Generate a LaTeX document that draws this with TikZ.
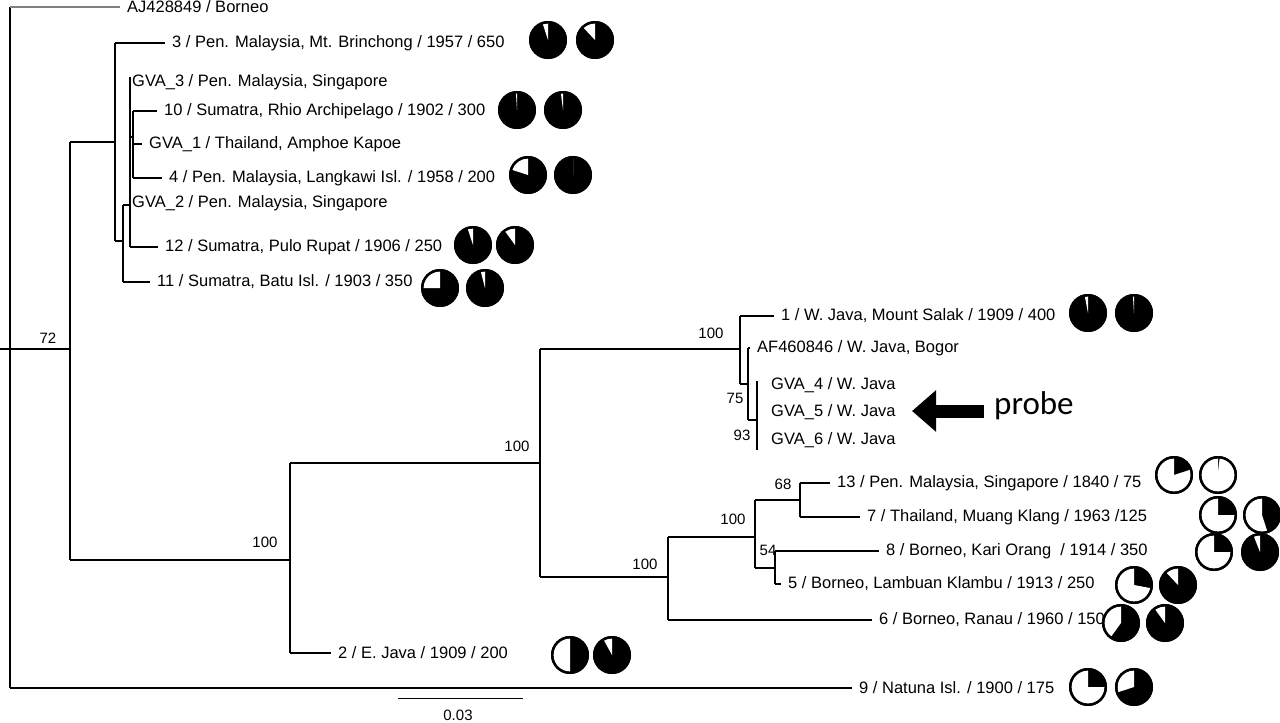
\documentclass[tikz,border=0pt]{standalone}
\usepackage{fontspec}
\setmainfont{Liberation Sans}
\newfontfamily\probefont{Carlito}
\usetikzlibrary{arrows.meta}
\tikzset{
  br/.style={line width=1.3pt},
  lab/.style={anchor=west,inner sep=0pt,font=\fontsize{16.5}{18}\selectfont},
  sup/.style={inner sep=0pt,font=\fontsize{15}{16}\selectfont},
}
% leaf: name, start x, end x, y, text
\newcommand\leaf[5]{
\draw[br] (#2,#4) -- (#3,#4);
\node[lab] (#1) at (#3+7,#4) {#5};
}
% pie: x, y, white fraction
\newcommand\piec[3]{
\fill[black] (#1,#2) circle (19);
\fill[white] (#1,#2) -- ++(-90:16.6) arc[start angle=-90,end angle=-90-360*#3,radius=16.6] -- cycle;
\draw[line width=2.4pt] (#1,#2) circle (17.8);
}
\begin{document}
\begin{tikzpicture}[x=1pt,y=-1pt]
\useasboundingbox (0,0) rectangle (1280,723);
% root
\draw[br] (0,349) -- (10,349);
\draw[br] (10,7) -- (10,688);
\draw[line width=1.3pt,gray] (10,7) -- (120,7);
\node[lab] (aj) at (127,7) {AJ428849 / Borneo};
\draw[br] (10,349) -- (70,349);
\node[sup] (s72) at (48,338) {72};
\draw[br] (70,142) -- (70,560);
% Malaysia / Sumatra clade
\draw[br] (70,142) -- (115,142);
\draw[br] (115,43) -- (115,241);
\leaf{t3}{115}{165}{43}{3 / Pen. Malaysia, Mt. Brinchong / 1957 / 650}
\draw[br] (115,241) -- (123,241);
\draw[br] (123,205) -- (123,282);
\leaf{t11}{123}{150}{282}{11 / Sumatra, Batu Isl. / 1903 / 350}
\draw[br] (123,205) -- (130,205);
\draw[br] (130,77) -- (130,247);
\node[lab] (gva3) at (132,82) {GVA\_3 / Pen. Malaysia, Singapore};
\node[lab] (gva2) at (132,203) {GVA\_2 / Pen. Malaysia, Singapore};
\leaf{t12}{130}{158}{247}{12 / Sumatra, Pulo Rupat / 1906 / 250}
\draw[br] (130,137) -- (133,137);
\draw[br] (133,111) -- (133,178);
\leaf{t10}{133}{157}{111}{10 / Sumatra, Rhio Archipelago / 1902 / 300}
\leaf{gva1}{133}{142}{144}{GVA\_1 / Thailand, Amphoe Kapoe}
\leaf{t4}{133}{162}{178}{4 / Pen. Malaysia, Langkawi Isl. / 1958 / 200}
% lower clade
\draw[br] (70,560) -- (290,560);
\node[sup] (s100a) at (265,542) {100};
\draw[br] (290,463) -- (290,653);
\leaf{t2}{290}{331}{653}{2 / E. Java / 1909 / 200}
\draw[br] (290,463) -- (540,463);
\node[sup] (s100b) at (517,446) {100};
\draw[br] (540,349) -- (540,577);
% Java clade
\draw[br] (540,349) -- (740,349);
\node[sup] (s100c) at (711,333) {100};
\draw[br] (740,316) -- (740,384);
\leaf{t1}{740}{774}{316}{1 / W. Java, Mount Salak / 1909 / 400}
\draw[br] (740,384) -- (748,384);
\draw[br] (748,348) -- (748,420);
\leaf{af}{748}{750}{348}{AF460846 / W. Java, Bogor}
\node[sup] (s75) at (735,398) {75};
\draw[br] (748,420) -- (757,420);
\draw[br] (757,381) -- (757,450);
\node[lab] (gva4) at (771,385) {GVA\_4 / W. Java};
\node[lab] (gva5) at (771,412) {GVA\_5 / W. Java};
\node[lab] (gva6) at (771,440) {GVA\_6 / W. Java};
\node[sup] (s93) at (742,435) {93};
\node[anchor=west,inner sep=0pt,font=\probefont\fontsize{33}{35}\selectfont] (probe) at (994,406) {probe};
\draw[line width=13pt,-{Triangle[length=24pt,width=40pt]}] (984,411) -- (912,411);
% Borneo clade
\draw[br] (540,577) -- (668,577);
\node[sup] (s100d) at (645,564) {100};
\draw[br] (668,537) -- (668,620);
\leaf{t6}{668}{872}{620}{6 / Borneo, Ranau / 1960 / 150}
\draw[br] (668,537) -- (755,537);
\node[sup] (s100e) at (733,519) {100};
\draw[br] (755,500) -- (755,568);
\draw[br] (755,500) -- (800,500);
\node[sup] (s68) at (783,484) {68};
\draw[br] (800,483) -- (800,517);
\leaf{t13}{800}{830}{483}{13 / Pen. Malaysia, Singapore / 1840 / 75}
\leaf{t7}{800}{860}{517}{7 / Thailand, Muang Klang / 1963 /125}
\draw[br] (755,568) -- (775,568);
\node[sup] (s54) at (768,550) {54};
\draw[br] (775,551) -- (775,584);
\leaf{t8}{775}{879}{551}{8 / Borneo, Kari Orang~ / 1914 / 350}
\leaf{t5}{775}{781}{584}{5 / Borneo, Lambuan Klambu / 1913 / 250}
\leaf{t9}{10}{852}{688}{9 / Natuna Isl. / 1900 / 175}
% scale bar
\draw[line width=0.8pt] (398,698) -- (523,698);
\node[sup] (scale) at (458,715) {0.03};
% pies
\foreach \x/\y/\w in {548/40/0.05,595/40/0.12,517/110/0.01,563/110/0.02,
  528/175/0.2,573/175/0,473/245/0.05,515/245/0.1,440/288/0.25,485/288/0.04,
  1088/313/0.03,1134/313/0.01,1174/475/0.8,1218/475/0.985,1218/515/0.75,1262/515/0.55,
  1214/552/0.75,1260/552/0.06,1134/585/0.72,1178/585/0.12,1121/623/0.4,1165/623/0.1,
  570/655/0.5,612/655/0.08,1088/687/0.75,1134/687/0.3}
  \piec{\x}{\y}{\w};
\end{tikzpicture}
\end{document}
